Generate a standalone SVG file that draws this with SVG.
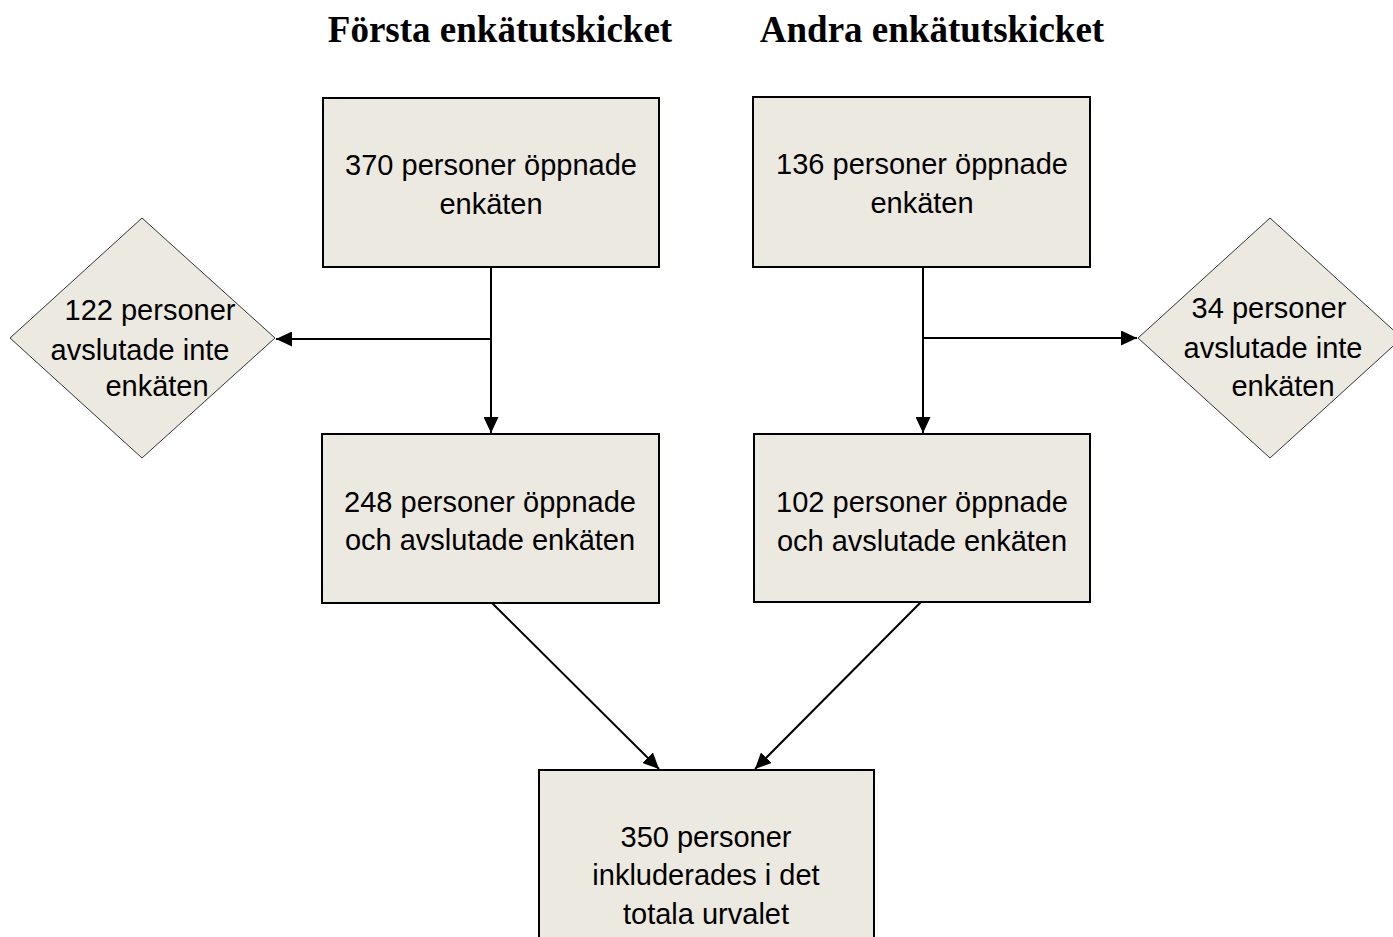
<svg xmlns="http://www.w3.org/2000/svg" width="1393" height="937" viewBox="0 0 1393 937">
<style>
.box{fill:#ECE9E0;stroke:#000;stroke-width:2}
.dia{fill:#ECE9E0;stroke:#333;stroke-width:1}
.t{font-family:"Liberation Sans",Arial,sans-serif;font-size:29px;fill:#000;text-anchor:middle}
.h{font-family:"Liberation Serif","Times New Roman",serif;font-size:37px;font-weight:bold;fill:#000;text-anchor:middle}
.c{stroke:#000;stroke-width:2;fill:none}
</style>
<defs>
<marker id="arrow" viewBox="0 0 16 15" refX="16" refY="7.5" markerWidth="16" markerHeight="15" markerUnits="userSpaceOnUse" orient="auto">
<path d="M0,0 L16,7.5 L0,15 Z" fill="#000"/>
</marker>
</defs>
<rect width="1393" height="937" fill="#fff"/>
<text class="h" x="500" y="42">Första enkätutskicket</text>
<text class="h" x="932" y="42">Andra enkätutskicket</text>
<g id="connectors">
<line class="c" x1="491" y1="267" x2="491" y2="433" marker-end="url(#arrow)"/>
<line class="c" x1="491" y1="339" x2="276" y2="339" marker-end="url(#arrow)"/>
<line class="c" x1="923" y1="267" x2="923" y2="433" marker-end="url(#arrow)"/>
<line class="c" x1="923" y1="338" x2="1137" y2="338" marker-end="url(#arrow)"/>
<line class="c" x1="492" y1="603" x2="659" y2="769" marker-end="url(#arrow)"/>
<line class="c" x1="921" y1="602" x2="755" y2="769" marker-end="url(#arrow)"/>
</g>
<g id="n1">
<rect class="box" x="323" y="98" width="336" height="169"/>
<text class="t" x="491" y="175">370 personer öppnade</text>
<text class="t" x="491" y="214">enkäten</text>
</g>
<g id="n2">
<rect class="box" x="753" y="97" width="337" height="170"/>
<text class="t" x="922" y="174">136 personer öppnade</text>
<text class="t" x="922" y="213">enkäten</text>
</g>
<g id="n3">
<rect class="box" x="322" y="434" width="337" height="169"/>
<text class="t" x="490" y="512">248 personer öppnade</text>
<text class="t" x="490" y="550">och avslutade enkäten</text>
</g>
<g id="n4">
<rect class="box" x="754" y="434" width="336" height="168"/>
<text class="t" x="922" y="512">102 personer öppnade</text>
<text class="t" x="922" y="551">och avslutade enkäten</text>
</g>
<g id="d1">
<polygon class="dia" points="142,218 275,338 142,458 10,338"/>
<text class="t" x="150" y="320">122 personer</text>
<text class="t" x="140" y="360">avslutade inte</text>
<text class="t" x="157" y="396">enkäten</text>
</g>
<g id="d2">
<polygon class="dia" points="1270,218 1402,338 1270,458 1138,338"/>
<text class="t" x="1269" y="318">34 personer</text>
<text class="t" x="1273" y="358">avslutade inte</text>
<text class="t" x="1283" y="396">enkäten</text>
</g>
<g id="n5">
<rect class="box" x="539" y="770" width="335" height="180"/>
<text class="t" x="706" y="847">350 personer</text>
<text class="t" x="706" y="885">inkluderades i det</text>
<text class="t" x="706" y="924">totala urvalet</text>
</g>
</svg>
